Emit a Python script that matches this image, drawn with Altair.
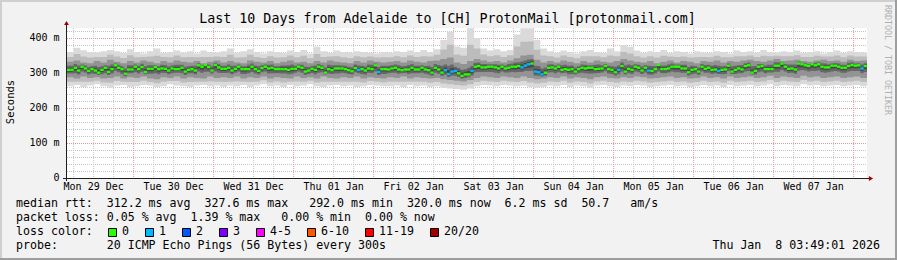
import altair as alt
import pandas as pd

# ---------------- data ----------------
# hourly median RTT (ms), 240 one-hour columns starting Mon 29 Dec 04:00
median = [
    309, 309, 315, 307, 318, 313, 306, 311, 307, 301,
    309, 315, 303, 311, 322, 315, 311, 298, 310, 310,
    318, 311, 317, 303, 312, 312, 317, 311, 313, 312,
    307, 313, 311, 311, 315, 304, 309, 311, 307, 322,
    318, 323, 317, 307, 323, 316, 312, 312,
    315, 307, 312, 318, 311, 311, 311, 318, 311, 306,
    314, 318, 313, 315, 311, 311, 311, 311, 309, 312,
    312, 318, 315, 304, 307, 312, 309, 318, 315, 301,
    311, 308, 313, 313, 313, 311, 308, 305, 314, 309,
    311, 307, 313, 311, 322, 303, 311, 311,
    310, 313, 315, 310, 308, 310, 310, 315, 310, 310,
    315, 310, 308, 301, 315, 310, 301, 308, 297, 304,
    306, 299, 292, 296, 296, 306, 318, 320, 316, 316,
    318, 318, 316, 313, 318, 313, 315, 318, 318, 320,
    316, 321, 325, 327, 304, 302, 296, 301,
    315, 316, 313, 318, 309, 311, 309, 311, 304, 311,
    315, 313, 315, 315, 311, 312, 313, 320, 311, 309,
    302, 309, 320, 304, 312, 309, 318, 315, 307, 315,
    307, 306, 311, 323, 311, 311, 313, 318, 318, 318,
    313, 313, 302, 309, 311, 304, 318, 312,
    315, 309, 310, 306, 309, 310, 321, 304, 309, 313,
    310, 320, 322, 301, 306, 318, 320, 311, 311, 311,
    321, 321, 327, 318, 312, 313, 310, 327, 325, 322,
    320, 325, 322, 325, 318, 316, 316, 321, 321, 318,
    315, 315, 320, 323, 321, 322, 313, 320,
]
# hours whose median was drawn in the "1 lost" colour
loss_one_hours = [87, 93, 113, 114, 115, 116, 121, 136, 137, 138, 140, 141, 142, 165, 174, 195, 238]

# smoke extent per two-hour block (ms)
smoke_top = [
    360, 372, 365, 360, 358, 362, 366, 362, 358, 368, 360, 356, 362, 370, 358, 360, 364, 358, 362, 356, 364, 360, 358, 362,
    370, 358, 362, 368, 360, 356, 362, 360, 358, 364, 360, 366, 356, 375, 362, 358, 364, 360, 358, 362, 360, 358, 356, 360,
    358, 362, 360, 364, 360, 366, 360, 368, 394, 418, 376, 372, 428, 400, 370, 364, 368, 362, 366, 410, 428, 428, 395, 370,
    362, 358, 364, 360, 356, 362, 366, 360, 358, 370, 362, 380, 375, 364, 358, 362, 360, 366, 358, 362, 360, 356, 362, 358,
    358, 362, 360, 356, 364, 360, 362, 358, 366, 360, 358, 362, 360, 364, 358, 360, 362, 356, 360, 364, 358, 362, 360, 358,
]
smoke_bot = [
    262, 266, 260, 264, 268, 262, 258, 264, 266, 260, 262, 266, 264, 260, 262, 268, 264, 262, 260, 264, 266, 262, 264, 260,
    264, 262, 266, 260, 264, 268, 262, 264, 260, 266, 262, 264, 268, 262, 260, 264, 266, 262, 264, 260, 262, 266, 264, 262,
    262, 264, 260, 266, 262, 264, 260, 262, 258, 256, 254, 252, 256, 262, 266, 264, 262, 266, 264, 262, 264, 260, 258, 260,
    264, 262, 266, 260, 264, 262, 258, 264, 266, 262, 260, 264, 262, 266, 264, 260, 262, 264, 266, 262, 264, 260, 262, 266,
    262, 264, 260, 266, 262, 264, 266, 262, 264, 268, 262, 266, 264, 262, 268, 264, 266, 262, 264, 266, 262, 264, 266, 262,
]
core_hi = [
    332, 336, 330, 328, 334, 330, 338, 332, 328, 334, 330, 336, 332, 328, 334, 330, 336, 332, 330, 334, 328, 332, 336, 330,
    334, 330, 328, 336, 332, 330, 334, 328, 332, 336, 330, 332, 328, 334, 330, 336, 332, 330, 328, 334, 330, 336, 332, 330,
    332, 334, 330, 336, 332, 330, 334, 336, 340, 344, 330, 326, 334, 340, 336, 332, 334, 330, 336, 342, 350, 352, 338, 330,
    334, 330, 336, 332, 328, 334, 330, 336, 332, 330, 334, 340, 336, 332, 330, 334, 328, 332, 336, 330, 334, 332, 328, 334,
    332, 336, 330, 334, 332, 336, 338, 334, 332, 336, 340, 334, 336, 338, 334, 332, 336, 338, 334, 336, 332, 338, 334, 336,
]
core_lo = [
    288, 284, 290, 286, 288, 284, 286, 290, 284, 288, 286, 290, 284, 282, 288, 286, 290, 284, 288, 286, 284, 290, 286, 288,
    286, 290, 284, 288, 286, 290, 284, 288, 286, 284, 290, 286, 288, 284, 290, 286, 284, 288, 286, 290, 284, 288, 286, 284,
    288, 286, 290, 284, 288, 286, 284, 286, 282, 280, 278, 276, 280, 286, 290, 288, 286, 290, 288, 286, 290, 286, 282, 284,
    288, 286, 290, 284, 288, 286, 282, 288, 290, 286, 284, 288, 286, 290, 288, 284, 286, 288, 290, 286, 288, 284, 286, 290,
    286, 288, 284, 290, 286, 288, 290, 286, 288, 292, 286, 290, 288, 286, 292, 288, 290, 286, 288, 290, 286, 288, 290, 286,
]

day_labels = ["Mon 29 Dec", "Tue 30 Dec", "Wed 31 Dec", "Thu 01 Jan", "Fri 02 Jan",
              "Sat 03 Jan", "Sun 04 Jan", "Mon 05 Jan", "Tue 06 Jan", "Wed 07 Jan"]
day_noon_hours = [8 + 24 * k for k in range(10)]
y_label_values = [0, 100, 200, 300, 400]
y_labels = ["0", "100 m", "200 m", "300 m", "400 m"]
y_grid_values = [v for v in range(20, 429, 20)]
x_grid_hours = [2 + 6 * k for k in range(40)]

loss_labels = ["0", "1", "2", "3", "4-5", "6-10", "11-19", "20/20"]
loss_colors = ["#26ff00", "#00b8ff", "#0059ff", "#7e00ff", "#ff00ff", "#ff5500", "#ff0000", "#a10000"]

title_text = "Last 10 Days from Adelaide to [CH] ProtonMail [protonmail.com]"
legend_lines = [
    "median rtt:  312.2 ms avg  327.6 ms max   292.0 ms min  320.0 ms now  6.2 ms sd  50.7   am/s",
    "packet loss: 0.05 % avg  1.39 % max   0.00 % min  0.00 % now",
    "loss color:",
    "probe:       20 ICMP Echo Pings (56 Bytes) every 300s",
]
stamp = "Thu Jan  8 03:49:01 2026"

# ---------------- layout / style ----------------
MONO = "DejaVu Sans Mono"
YMAX = 428.57
W, H = 800, 150
GRID = "#c4c4c4"
MGRID = "#e49494"
AXIS = "#202020"
ARROW = "#a00000"
NB = "\u00a0"
box_left = [108, 145, 182, 219, 256, 307, 365, 430]
band_colors = ["#dadada", "#bcbcbc", "#939393", "#676767", "#474747"]


def nb(s):
    return s.replace(" ", NB)


N = len(median)
loss_set = set(loss_one_hours)
rows = []
for i in range(N + 1):
    j = min(i, N - 1)
    p = j // 2
    m = median[j]
    t = min(smoke_top[p], YMAX)
    b = smoke_bot[p]
    ch, cl = core_hi[p], core_lo[p]
    rows.append(dict(h=i, b1lo=b, b1hi=t, b2lo=(b + cl) / 2, b2hi=(t + ch) / 2,
                     b3lo=cl, b3hi=ch, b4lo=(cl + m) / 2, b4hi=(ch + m) / 2,
                     b5lo=(cl + 3 * m) / 4, b5hi=(ch + 3 * m) / 4))
smoke = pd.DataFrame(rows)
med = pd.DataFrame({
    "h": list(range(N)),
    "h2": [i + 1 for i in range(N)],
    "ms": median,
    "col": [loss_colors[1] if i in loss_set else loss_colors[0] for i in range(N)],
})

xs = alt.Scale(domain=[0, 240], nice=False, zero=False)
ys = alt.Scale(domain=[0, YMAX], nice=False)

xg = pd.DataFrame({"h": x_grid_hours, "major": [(h - 20) % 24 == 0 for h in x_grid_hours]})
yg = pd.DataFrame({"v": y_grid_values, "major": [v % 100 == 0 for v in y_grid_values]})
xl = pd.DataFrame({"h": day_noon_hours, "label": day_labels})
yl = pd.DataFrame({"v": y_label_values, "label": y_labels})

layers = []
# grid
layers.append(alt.Chart(xg).transform_filter("!datum.major").mark_rule(
    color=GRID, strokeDash=[1, 1], strokeWidth=1).encode(
    x=alt.X("h:Q", scale=xs, axis=None), y=alt.value(0), y2=alt.value(H)))
layers.append(alt.Chart(yg).transform_filter("!datum.major").mark_rule(
    color=GRID, strokeDash=[1, 1], strokeWidth=1, yOffset=0.5).encode(
    y=alt.Y("v:Q", scale=ys, axis=None), x=alt.value(0), x2=alt.value(W)))
layers.append(alt.Chart(xg).transform_filter("datum.major").mark_rule(
    color=MGRID, strokeDash=[1, 1], strokeWidth=1).encode(
    x=alt.X("h:Q", scale=xs, axis=None), y=alt.value(0), y2=alt.value(H)))
layers.append(alt.Chart(yg).transform_filter("datum.major").mark_rule(
    color=MGRID, strokeDash=[1, 1], strokeWidth=1, yOffset=0.5).encode(
    y=alt.Y("v:Q", scale=ys, axis=None), x=alt.value(0), x2=alt.value(W)))

# smoke
for k, c in enumerate(band_colors, start=1):
    layers.append(
        alt.Chart(smoke).mark_area(interpolate="step-after", color=c, opacity=1).encode(
            x=alt.X("h:Q", scale=xs, axis=None),
            y=alt.Y("b%dlo:Q" % k, scale=ys, axis=None),
            y2="b%dhi:Q" % k,
        )
    )

# median coloured by loss
layers.append(
    alt.Chart(med).mark_rule(strokeWidth=2.4).encode(
        x=alt.X("h:Q", scale=xs, axis=None), x2="h2:Q",
        y=alt.Y("ms:Q", scale=ys, axis=None), color=alt.Color("col:N", scale=None),
    )
)

# tick labels
layers.append(alt.Chart(xl).mark_text(font=MONO, fontSize=10, align="center", baseline="middle", color="#000").encode(
    x=alt.X("h:Q", scale=xs, axis=None), y=alt.value(H + 9), text="label:N"))
layers.append(alt.Chart(yl).mark_text(font=MONO, fontSize=10, align="right", baseline="middle", color="#000").encode(
    y=alt.Y("v:Q", scale=ys, axis=None), x=alt.value(-7.5), text="label:N"))

# axes with arrows
layers.append(alt.Chart().mark_rule(color=AXIS, strokeWidth=1, xOffset=-0.5).encode(
    x=alt.value(0), y=alt.value(-6), y2=alt.value(H + 3)))
layers.append(alt.Chart().mark_rule(color=AXIS, strokeWidth=1, yOffset=0.5).encode(
    x=alt.value(-4), x2=alt.value(W + 2), y=alt.value(H)))
layers.append(alt.Chart().mark_point(shape="triangle-up", filled=True, color=ARROW, size=24, opacity=1).encode(
    x=alt.value(-0.5), y=alt.value(-5)))
layers.append(alt.Chart().mark_point(shape="triangle-right", filled=True, color=ARROW, size=24, opacity=1).encode(
    x=alt.value(W + 4), y=alt.value(H + 0.5)))

# frame (light top/left, dark bottom/right)
layers.append(alt.Chart().mark_rect(color="#cfcfcf").encode(
    x=alt.value(-67), x2=alt.value(830), y=alt.value(-28), y2=alt.value(-26)))
layers.append(alt.Chart().mark_rect(color="#cfcfcf").encode(
    x=alt.value(-67), x2=alt.value(-65), y=alt.value(-28), y2=alt.value(232)))
layers.append(alt.Chart().mark_rect(color="#9e9e9e").encode(
    x=alt.value(828), x2=alt.value(830), y=alt.value(-28), y2=alt.value(232)))
layers.append(alt.Chart().mark_rect(color="#9e9e9e").encode(
    x=alt.value(-67), x2=alt.value(830), y=alt.value(230), y2=alt.value(232)))

# texts
layers.append(alt.Chart().mark_text(font=MONO, fontSize=13.3, align="center", baseline="middle", color="#000").encode(
    x=alt.value(380.5), y=alt.value(-9), text=alt.value(nb(title_text))))
layers.append(alt.Chart().mark_text(font=MONO, fontSize=10.5, align="center", baseline="middle", angle=270, color="#000").encode(
    x=alt.value(-56), y=alt.value(74), text=alt.value("Seconds")))
layers.append(alt.Chart().mark_text(font=MONO, fontSize=8.3, align="left", baseline="middle", angle=90, color="#b0b0b0").encode(
    x=alt.value(820), y=alt.value(-23), text=alt.value(nb("RRDTOOL / TOBI OETIKER"))))
for r, line in enumerate(legend_lines):
    layers.append(alt.Chart().mark_text(font=MONO, fontSize=11.6, align="left", baseline="middle", color="#000").encode(
        x=alt.value(-51), y=alt.value(176 + 14 * r), text=alt.value(nb(line))))
layers.append(alt.Chart().mark_text(font=MONO, fontSize=11.6, align="right", baseline="middle", color="#000").encode(
    x=alt.value(813), y=alt.value(218), text=alt.value(nb(stamp))))

# loss colour legend
for lab, col, bl in zip(loss_labels, loss_colors, box_left):
    layers.append(alt.Chart().mark_rect(color=col, stroke="#000", strokeWidth=1).encode(
        x=alt.value(bl - 67 + 0.5), x2=alt.value(bl - 67 + 8.5), y=alt.value(200.5), y2=alt.value(208.5)))
    layers.append(alt.Chart().mark_text(font=MONO, fontSize=11.6, align="left", baseline="middle", color="#000").encode(
        x=alt.value(bl - 67 + 14), y=alt.value(204), text=alt.value(lab)))

chart = alt.layer(*layers).properties(
    width=W, height=H,
    autosize=alt.AutoSizeParams(type="none"),
    padding={"left": 67, "top": 28, "right": 30, "bottom": 82},
    background="#f2f2f2",
).configure_view(strokeWidth=0, fill="#ffffff")

chart.save("out.html", embed_options={"renderer": "svg", "actions": False})
